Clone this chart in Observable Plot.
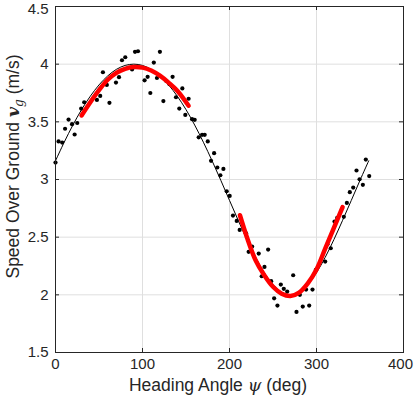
<!DOCTYPE html>
<html><head><meta charset="utf-8">
<script src="https://cdn.jsdelivr.net/npm/d3@7"></script>
<script src="https://cdn.jsdelivr.net/npm/@observablehq/plot@0.6"></script>
<style>body{margin:0;background:#fff} svg{display:block}</style>
</head><body><div id="chart"></div>
<script>
const xTicks = [0, 100, 200, 300, 400];
const yTicks = [1.5, 2, 2.5, 3, 3.5, 4, 4.5];

// measured samples
const headingDeg = [0, 3.5, 7.7, 11, 15, 19, 22, 25, 29.5, 33, 47.6, 51.4, 54.5, 59, 62, 69.5, 73, 76.4, 80.2, 88,
  91.4, 94.8, 102.4, 105.9, 109, 113, 116.6, 120, 124, 127.4, 131, 134.6, 138.5, 142.3, 145.8, 149.2, 153, 157, 160, 164.6,
  168.5, 171.5, 175, 178.8, 182.3, 186, 189.5, 193, 196.8, 200.2, 204, 208.3, 211.7, 219, 222, 226, 233.6, 237, 240.2, 244.4,
  247.9, 251.3, 255.1, 259, 262.4, 266.3, 273.2, 277, 280.9, 284.2, 288, 291.6, 295.4, 299.2, 310, 312.6, 316.4, 320.7, 323.8, 331.4,
  334.9, 338.3, 342.2, 346, 349.5, 353.3, 356.7, 360.6];
const speedOverGround = [3.147, 3.33, 3.32, 3.44, 3.52, 3.48, 3.39, 3.49, 3.615, 3.67, 3.69, 3.725, 3.93, 3.82, 3.665, 3.84, 3.887, 4.034, 4.06, 3.954,
  4.107, 4.112, 3.86, 3.89, 3.75, 4.014, 3.88, 4.107, 3.68, 3.855, 3.826, 3.89, 3.713, 3.615, 3.79, 3.56, 3.70, 3.523, 3.517, 3.366,
  3.387, 3.387, 3.33, 3.162, 3.228, 3.104, 3.037, 3.092, 2.898, 2.858, 2.687, 2.641, 2.563, 2.534, 2.373, 2.418, 2.358, 2.161, 2.242, 2.392,
  2.118, 1.97, 1.907, 2.089, 2.052, 2.028, 2.17, 1.852, 2.0, 1.898, 2.046, 1.907, 2.046, 2.216, 2.288, 2.438, 2.404, 2.635, 2.667, 2.676,
  2.797, 2.89, 2.93, 3.078, 3.002, 2.954, 3.173, 3.03];

// black fitted curve
const fitAngle = [0, 10, 20, 30, 40, 50, 60, 70, 80, 90, 100, 110, 120, 130, 140, 150, 160, 170, 180,
  190, 200, 210, 220, 230, 240, 250, 260, 270, 280, 290, 300, 310, 320, 330, 340, 350, 360];
const fitSpeed = [3.162, 3.323, 3.472, 3.606, 3.722, 3.820, 3.898, 3.955, 3.989, 4.0, 3.989, 3.955, 3.898, 3.820, 3.722, 3.606, 3.472, 3.323, 3.162,
  2.993, 2.819, 2.646, 2.479, 2.325, 2.192, 2.089, 2.023, 2.0, 2.023, 2.089, 2.192, 2.325, 2.479, 2.646, 2.819, 2.993, 3.162];

// red local fits
const peakAngle = [30, 40, 50, 60, 70, 80, 90, 100, 110, 120, 130, 140, 153];
const peakSpeed = [3.555, 3.67, 3.775, 3.865, 3.925, 3.96, 3.975, 3.97, 3.945, 3.90, 3.84, 3.77, 3.64];
const troughAngle = [212, 220, 230, 240, 250, 260, 270, 280, 290, 300, 310, 320, 330];
const troughSpeed = [2.69, 2.50, 2.30, 2.17, 2.07, 2.01, 1.99, 2.02, 2.10, 2.22, 2.40, 2.58, 2.76];

const W = 414, H = 396, mL = 55, mR = 11, mT = 6, mB = 44;
const pw = W - mL - mR, ph = H - mT - mB;
const zip = (xs, ys) => xs.map((x, i) => ({x, y: ys[i]}));
const pts = zip(headingDeg, speedOverGround);
const fit = zip(fitAngle, fitSpeed);
const peak = zip(peakAngle, peakSpeed);
const trough = zip(troughAngle, troughSpeed);
const ink = "#262626";
const xEdge = xTicks[xTicks.length - 1], yEdge = yTicks[yTicks.length - 1];
const tickFont = 15;

const chart = Plot.plot({
  width: W, height: H,
  marginLeft: mL, marginRight: mR, marginTop: mT, marginBottom: mB,
  style: {fontFamily: "'Liberation Sans', Arial, sans-serif", fontSize: tickFont + "px", color: ink, background: "#fff"},
  x: {domain: [0, 400]},
  y: {domain: [1.5, 4.5]},
  marks: [
    Plot.gridX(xTicks, {stroke: "#dfdfdf", strokeOpacity: 1}),
    Plot.gridY(yTicks, {stroke: "#dfdfdf", strokeOpacity: 1}),
    Plot.dot(pts, {x: "x", y: "y", r: 2.1, fill: "black", stroke: "none"}),
    Plot.line(fit, {x: "x", y: "y", stroke: "black", strokeWidth: 1, curve: "catmull-rom"}),
    Plot.line(peak, {x: "x", y: "y", stroke: "#ff0000", strokeWidth: 4.5, curve: "catmull-rom"}),
    Plot.line(trough, {x: "x", y: "y", stroke: "#ff0000", strokeWidth: 4.5, curve: "catmull-rom"}),
    Plot.tickX(xTicks, {x: d => d, stroke: ink, insetTop: ph - 4}),
    Plot.tickX(xTicks, {x: d => d, stroke: ink, insetBottom: ph - 4}),
    Plot.tickY(yTicks, {y: d => d, stroke: ink, insetRight: pw - 4}),
    Plot.tickY(yTicks, {y: d => d, stroke: ink, insetLeft: pw - 4}),
    Plot.frame({stroke: ink}),
    Plot.axisX(xTicks.filter(d => d !== xEdge), {tickSize: 0, tickPadding: 6, fontSize: tickFont, label: null, tickFormat: d => String(d)}),
    Plot.axisX([xEdge], {tickSize: 0, tickPadding: 6, fontSize: tickFont, label: null, tickFormat: d => String(d), dx: -3}),
    Plot.axisY(yTicks.filter(d => d !== yEdge), {tickSize: 0, tickPadding: 7, fontSize: tickFont, label: null, tickFormat: d => String(d)}),
    Plot.axisY([yEdge], {tickSize: 0, tickPadding: 7, fontSize: tickFont, label: null, tickFormat: d => String(d), dy: 2.5})
  ]
});
document.getElementById("chart").appendChild(chart);

const svg = d3.select(chart);
const labelFont = 17.5;
const xl = svg.append("text").attr("x", 218).attr("y", 391).attr("text-anchor", "middle")
  .attr("font-size", labelFont).attr("fill", ink).attr("font-family", "'Liberation Sans', Arial, sans-serif");
xl.append("tspan").text("Heading Angle ");
xl.append("tspan").attr("font-family", "'DejaVu Serif', serif").attr("font-style", "italic").text("ψ");
xl.append("tspan").text(" (deg)");

const yl = svg.append("text").attr("transform", "translate(19,166.5) rotate(-90)").attr("text-anchor", "middle")
  .attr("font-size", labelFont).attr("fill", ink).attr("font-family", "'Liberation Sans', Arial, sans-serif");
yl.append("tspan").text("Speed Over Ground ");
yl.append("tspan").attr("font-family", "'DejaVu Serif', serif").attr("font-style", "italic").attr("font-weight", "bold").text("v");
yl.append("tspan").attr("font-family", "'DejaVu Serif', serif").attr("font-style", "italic").attr("font-size", 12).attr("dy", 4).text("g");
yl.append("tspan").attr("dy", -4).text(" (m/s)");
</script>
</body></html>
